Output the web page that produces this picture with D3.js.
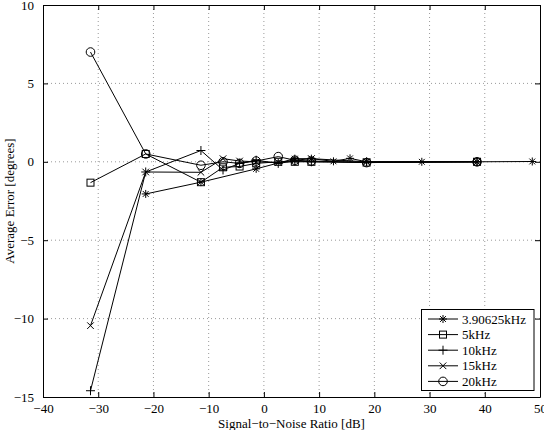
<!DOCTYPE html>
<html>
<head>
<meta charset="utf-8">
<script src="https://cdn.jsdelivr.net/npm/d3@7"></script>
<style>
body { margin: 0; background: #fff; }
text { font-family: "Liberation Serif", "Times New Roman", Times, serif; }
</style>
</head>
<body>
<svg id="chart" width="544" height="430"></svg>
<script>
// x values (SNR, dB) shared by four of the series
var snr = [-31.4, -21.4, -11.4, -7.4, -4.4, -1.4, 2.6, 5.6, 8.6, 18.6, 38.6];
var snrLow = [-21.4, -11.4, -1.4, 5.6, 8.6, 12.6, 15.6, 18.6, 28.6, 38.6, 48.6];

var err390 = [-2.05, -1.3, -0.45, 0.2, 0.2, 0.03, 0.22, 0, 0, 0, 0.02];
var err5 = [-1.33, 0.5, -1.3, -0.35, -0.3, -0.1, 0, 0, 0, -0.05, 0];
var err10 = [-14.6, -0.65, 0.72, -0.52, -0.1, 0.1, -0.1, 0.05, 0, 0, 0];
var err15 = [-10.45, -0.65, -0.67, 0.2, 0.05, 0, -0.05, 0.1, 0.2, 0, 0];
var err20 = [7.0, 0.5, -0.22, 0.0, -0.1, 0.05, 0.33, 0.1, 0.05, -0.05, 0];

var seriesNames = ['3.90625kHz', '5kHz', '10kHz', '15kHz', '20kHz'];
var seriesMarkers = ['asterisk', 'square', 'plus', 'cross', 'circle'];
var xTicks = [-40, -30, -20, -10, 0, 10, 20, 30, 40, 50];
var yTicks = [-15, -10, -5, 0, 5, 10];

var series = [
    {name: seriesNames[0], marker: seriesMarkers[0], x: snrLow, y: err390},
    {name: seriesNames[1], marker: seriesMarkers[1], x: snr, y: err5},
    {name: seriesNames[2], marker: seriesMarkers[2], x: snr, y: err10},
    {name: seriesNames[3], marker: seriesMarkers[3], x: snr, y: err15},
    {name: seriesNames[4], marker: seriesMarkers[4], x: snr, y: err20}
];

var pLeft = 43, pTop = 5, pRight = 540, pBottom = 397;
var svg = d3.select('#chart');

var x = d3.scaleLinear().domain([-40, 50]).range([pLeft, pRight]);
var y = d3.scaleLinear().domain([-15, 10]).range([pBottom, pTop]);

function minus(v) { return v < 0 ? '\u2212' + Math.abs(v) : '' + v; }

// grid
var grid = svg.append('g').attr('stroke', '#808080').attr('stroke-width', 0.8)
    .attr('stroke-dasharray', '1,3');
xTicks.slice(1, -1).forEach(function(t) {
    grid.append('line').attr('x1', x(t)).attr('x2', x(t)).attr('y1', pTop).attr('y2', pBottom);
});
yTicks.slice(1, -1).forEach(function(t) {
    grid.append('line').attr('x1', pLeft).attr('x2', pRight).attr('y1', y(t)).attr('y2', y(t));
});

// axes (MATLAB style, ticks inside on all sides)
var axB = d3.axisBottom(x).tickValues(xTicks).tickSizeInner(-5).tickSizeOuter(0).tickPadding(7).tickFormat(minus);
var axT = d3.axisTop(x).tickValues(xTicks).tickSizeInner(-5).tickSizeOuter(0).tickFormat('');
var axL = d3.axisLeft(y).tickValues(yTicks).tickSizeInner(-5).tickSizeOuter(0).tickPadding(9).tickFormat(minus);
var axR = d3.axisRight(y).tickValues(yTicks).tickSizeInner(-5).tickSizeOuter(0).tickFormat('');

function styleAxis(g) {
    g.attr('font-family', null);
    g.selectAll('path').attr('stroke', '#000').attr('stroke-width', 1);
    g.selectAll('line').attr('stroke', '#000');
    g.selectAll('text').attr('fill', '#000').style('font-size', '13px');
}
svg.append('g').attr('transform', 'translate(0,' + pBottom + ')').call(axB).call(styleAxis);
svg.append('g').attr('transform', 'translate(0,' + pTop + ')').call(axT).call(styleAxis);
svg.append('g').attr('transform', 'translate(' + pLeft + ',0)').call(axL).call(styleAxis);
svg.append('g').attr('transform', 'translate(' + pRight + ',0)').call(axR).call(styleAxis);

function drawMarker(g, type, cx, cy) {
    var m = g.append('g').attr('transform', 'translate(' + cx + ',' + cy + ')')
        .attr('stroke', '#000').attr('fill', 'none').attr('stroke-width', 1);
    if(type == 'circle')
        m.append('circle').attr('r', 4.3);
    else if(type == 'square')
        m.append('rect').attr('x', -3.5).attr('y', -3.5).attr('width', 7).attr('height', 7);
    else if(type == 'plus')
        m.append('path').attr('d', 'M-4.5,0H4.5M0,-4.5V4.5');
    else if(type == 'cross')
        m.append('path').attr('d', 'M-3.3,-3.3L3.3,3.3M-3.3,3.3L3.3,-3.3');
    else if(type == 'asterisk')
        m.append('path').attr('d', 'M-4,0H4M0,-4V4M-2.9,-2.9L2.9,2.9M-2.9,2.9L2.9,-2.9');
}

var line = d3.line().x(function(d) { return x(d[0]); }).y(function(d) { return y(d[1]); });

series.forEach(function(s) {
    var pts = s.x.map(function(v, i) { return [v, s.y[i]]; });
    var g = svg.append('g');
    g.append('path').attr('d', line(pts)).attr('fill', 'none').attr('stroke', '#000').attr('stroke-width', 1);
    pts.forEach(function(p) { drawMarker(g, s.marker, x(p[0]), y(p[1])); });
});

// legend
var lg = svg.append('g');
lg.append('rect').attr('x', 421.5).attr('y', 309.5).attr('width', 112.5).attr('height', 81)
    .attr('fill', '#fff').attr('stroke', '#000').attr('stroke-width', 1);
series.forEach(function(s, i) {
    var ly = 319 + i * 15.6;
    lg.append('line').attr('x1', 428).attr('x2', 458).attr('y1', ly).attr('y2', ly)
        .attr('stroke', '#000').attr('stroke-width', 1);
    drawMarker(lg, s.marker, 443, ly);
    lg.append('text').attr('x', 462).attr('y', ly + 4.5).style('font-size', '13px').text(s.name);
});

// axis labels
svg.append('text').attr('x', (pLeft + pRight) / 2).attr('y', 428).attr('text-anchor', 'middle')
    .style('font-size', '13px').text('Signal\u2212to\u2212Noise Ratio [dB]');
svg.append('text').attr('transform', 'translate(14,' + (pTop + pBottom) / 2 + ') rotate(-90)')
    .attr('text-anchor', 'middle').style('font-size', '13px').text('Average Error [degrees]');
</script>
</body>
</html>
